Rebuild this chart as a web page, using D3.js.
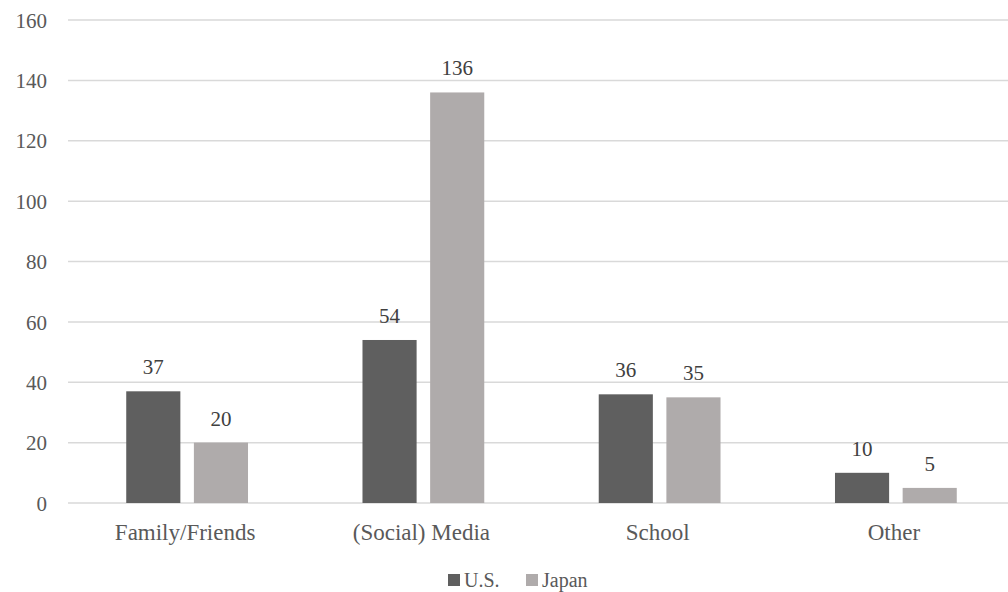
<!DOCTYPE html>
<html><head><meta charset="utf-8">
<script src="https://cdn.jsdelivr.net/npm/d3@7"></script>
<style>
html,body{margin:0;padding:0;background:#fff;}
svg text{font-family:"Liberation Serif","Times New Roman",Tinos,"DejaVu Serif",serif !important;}
</style></head>
<body>
<svg id="chart" width="1008" height="592"></svg>
<script>
const categories = ["Family/Friends", "(Social) Media", "School", "Other"];
const seriesNames = ["U.S.", "Japan"];
const usValues = [37, 54, 36, 10];
const japanValues = [20, 136, 35, 5];
const yTicks = [0, 20, 40, 60, 80, 100, 120, 140, 160];
const colors = ["#5f5f5f", "#afabab"];
const FONT = '"Liberation Serif","Times New Roman",Tinos,"DejaVu Serif",serif';

const svg = d3.select("#chart");
const y = d3.scaleLinear().domain([0, 160]).range([503, 20]);
const x0 = d3.scaleBand().domain(categories).range([69, 1014]).paddingInner(0).paddingOuter(0);
const x1 = d3.scaleBand().domain(seriesNames).range([0, x0.bandwidth()]).paddingInner(0.2).paddingOuter(0.846);

// gridlines
svg.append("g").selectAll("line").data(yTicks).join("line")
  .attr("x1", 68).attr("x2", 1008)
  .attr("y1", d => y(d)).attr("y2", d => y(d))
  .attr("stroke", "#d9d9d9").attr("stroke-width", 1.5);

// y tick labels
const yAxis = d3.axisLeft(y).tickValues(yTicks).tickSize(0).tickPadding(0);
const ga = svg.append("g").attr("transform", "translate(47,0)").call(yAxis)
  .attr("font-family", FONT);
ga.select(".domain").remove();
ga.selectAll("text").attr("font-size", 21).attr("fill", "#595959")
  .style("font-family", FONT).attr("dy", "0.34em");

const rows = categories.map((c, i) => ({cat: c, vals: [usValues[i], japanValues[i]]}));
const groups = svg.append("g").selectAll("g").data(rows).join("g")
  .attr("transform", d => `translate(${x0(d.cat)},0)`);

groups.selectAll("rect").data(d => d.vals.map((v, j) => ({s: seriesNames[j], v, j}))).join("rect")
  .attr("x", d => x1(d.s)).attr("width", x1.bandwidth())
  .attr("y", d => y(d.v)).attr("height", d => y(0) - y(d.v))
  .attr("fill", d => colors[d.j]);

groups.selectAll("text.val").data(d => d.vals.map((v, j) => ({s: seriesNames[j], v, j}))).join("text")
  .attr("class", "val")
  .attr("x", d => x1(d.s) + x1.bandwidth() / 2)
  .attr("y", d => y(d.v) - 17)
  .attr("text-anchor", "middle").attr("font-size", 21).attr("fill", "#404040")
  .style("font-family", FONT)
  .text(d => d.v);

// x axis labels
const xAxis = d3.axisBottom(x0).tickSize(0).tickPadding(0);
const gx = svg.append("g").attr("transform", "translate(-2,540)").call(xAxis)
  .attr("font-family", FONT);
gx.select(".domain").remove();
gx.selectAll("text").attr("font-size", 23).attr("fill", "#595959")
  .style("font-family", FONT).attr("dy", 0).attr("y", 0);

// legend
const legendItems = [{name: "U.S.", x: 448}, {name: "Japan", x: 526}];
const lg = svg.append("g");
legendItems.forEach((d, i) => {
  lg.append("rect").attr("x", d.x).attr("y", 574).attr("width", 12).attr("height", 12).attr("fill", colors[i]);
  lg.append("text").attr("x", d.x + 16).attr("y", 587).attr("font-size", 20).attr("fill", "#595959")
    .style("font-family", FONT).text(d.name);
});
</script>
</body></html>
